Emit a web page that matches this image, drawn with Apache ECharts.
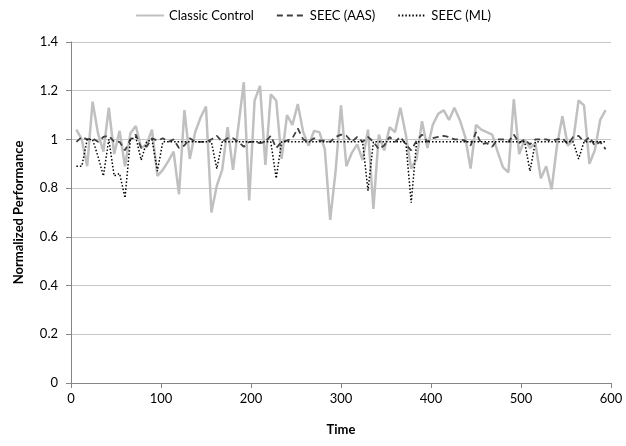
<!DOCTYPE html>
<html>
<head>
<meta charset="utf-8">
<script src="https://cdn.jsdelivr.net/npm/echarts@6/dist/echarts.min.js"></script>
<style>
  html, body { margin: 0; padding: 0; background: #fff; }
  #chart { width: 626px; height: 446px; }
</style>
</head>
<body>
<div id="chart"></div>
<script>
// Sampling instants (time units)
const time = [
  6, 12, 18, 24, 30, 36, 42, 48, 54, 60, 66, 72, 78, 84, 90, 96, 102, 108, 114, 120,
  126, 132, 138, 144, 150, 156, 162, 168, 174, 180, 186, 192, 198, 204, 210, 216, 222, 228, 234, 240,
  246, 252, 258, 264, 270, 276, 282, 288, 294, 300, 306, 312, 318, 324, 330, 336, 342, 348, 354, 360,
  366, 372, 378, 384, 390, 396, 402, 408, 414, 420, 426, 432, 438, 444, 450, 456, 462, 468, 474, 480,
  486, 492, 498, 504, 510, 516, 522, 528, 534, 540, 546, 552, 558, 564, 570, 576, 582, 588, 594
];

// Normalized performance, classic control
const classicControl = [
  1.04, 1.00, 0.89, 1.155, 1.025, 0.95, 1.13, 0.94, 1.035, 0.89, 1.025, 1.055, 0.965, 0.98, 1.04, 0.85, 0.875, 0.91, 0.95, 0.775,
  1.12, 0.92, 1.03, 1.09, 1.135, 0.70, 0.81, 0.875, 1.05, 0.875, 1.055, 1.235, 0.75, 1.16, 1.22, 0.895, 1.185, 1.16, 0.92, 1.10,
  1.06, 1.145, 1.03, 0.975, 1.035, 1.03, 0.96, 0.67, 0.87, 1.14, 0.89, 0.945, 0.98, 0.915, 1.04, 0.715, 1.02, 0.955, 1.05, 1.03,
  1.13, 1.02, 0.88, 0.92, 1.075, 0.965, 1.06, 1.105, 1.12, 1.08, 1.13, 1.08, 1.01, 0.88, 1.06, 1.04, 1.03, 1.02, 0.95, 0.885,
  0.865, 1.165, 0.94, 1.00, 0.965, 0.985, 0.84, 0.89, 0.795, 0.975, 1.095, 0.975, 0.995, 1.16, 1.14, 0.90, 0.955, 1.08, 1.12
];

// Normalized performance, SEEC with the AAS decision engine
const seecAAS = [
  0.99, 1.01, 1.00, 1.005, 0.99, 1.01, 1.015, 0.99, 0.99, 0.955, 1.00, 1.02, 0.965, 0.97, 1.005, 0.995, 1.005, 0.99, 1.00, 0.965,
  0.975, 1.005, 0.99, 0.99, 0.99, 1.00, 1.015, 0.99, 1.005, 1.005, 0.99, 0.97, 0.99, 0.99, 0.985, 0.99, 1.015, 0.965, 0.99, 0.995,
  1.005, 1.045, 1.00, 0.99, 1.005, 0.995, 0.995, 0.99, 1.01, 1.02, 1.015, 0.99, 1.01, 0.99, 1.01, 0.99, 0.96, 0.975, 1.01, 0.99,
  1.01, 0.98, 0.955, 0.995, 1.02, 0.99, 1.005, 1.01, 1.015, 1.01, 1.00, 1.00, 0.995, 0.975, 1.03, 0.98, 0.985, 0.97, 1.00, 1.00,
  0.99, 1.02, 0.985, 1.00, 0.98, 1.00, 1.00, 1.00, 0.995, 1.00, 1.005, 0.98, 1.01, 1.015, 0.99, 1.01, 0.975, 0.99, 0.96
];

// Normalized performance, SEEC with the ML decision engine
const seecML = [
  0.89, 0.89, 1.00, 1.00, 0.93, 0.85, 1.00, 0.85, 0.86, 0.76, 1.00, 1.01, 0.915, 0.99, 1.00, 0.87, 0.99, 0.99, 0.99, 0.99,
  0.99, 0.99, 0.99, 0.99, 0.99, 0.99, 0.88, 0.99, 0.99, 0.99, 0.99, 0.99, 0.99, 0.99, 0.99, 0.99, 0.99, 0.84, 0.99, 0.99,
  0.99, 0.99, 0.99, 0.99, 0.99, 0.99, 0.99, 0.99, 0.99, 0.99, 0.99, 0.99, 0.99, 0.99, 0.79, 0.99, 0.99, 0.99, 0.99, 0.99,
  0.99, 0.99, 0.74, 0.99, 0.99, 0.99, 0.99, 0.99, 0.99, 0.99, 0.99, 0.99, 0.99, 0.99, 0.99, 0.99, 0.99, 0.99, 0.99, 0.99,
  0.99, 0.99, 0.99, 0.99, 0.87, 0.99, 0.99, 0.99, 0.99, 0.99, 0.99, 0.99, 0.99, 0.92, 0.99, 0.99, 0.99, 0.99, 0.99
];

const seriesNames = ['Classic Control', 'SEEC (AAS)', 'SEEC (ML)'];

const pairs = vals => time.map((t, i) => [t, vals[i]]);
const font = 'Lato, "Open Sans", sans-serif';

const chart = echarts.init(document.getElementById('chart'), null, { renderer: 'canvas' });
chart.setOption({
  animation: false,
  backgroundColor: '#ffffff',
  textStyle: { fontFamily: font },
  legend: {
    top: 4,
    left: 'center',
    itemWidth: 28,
    itemHeight: 10,
    itemGap: 22,
    // line samples only, no marker on them
    itemStyle: { opacity: 0 },
    textStyle: { fontFamily: font, fontSize: 13, color: '#000' },
    data: seriesNames
  },
  grid: { left: 71, right: 15, top: 42, bottom: 63, containLabel: false },
  xAxis: {
    type: 'value',
    min: 0, max: 600, interval: 100,
    name: 'Time',
    nameLocation: 'middle',
    nameGap: 40,
    nameTextStyle: { fontFamily: font, fontSize: 13, fontWeight: 'bold', color: '#000' },
    axisLine: { lineStyle: { color: '#868686', width: 1 } },
    axisTick: { show: true, inside: false, length: 5, lineStyle: { color: '#868686' } },
    axisLabel: { fontFamily: font, fontSize: 13, color: '#000', margin: 9 },
    splitLine: { show: false }
  },
  yAxis: {
    type: 'value',
    min: 0, max: 1.4, interval: 0.2,
    name: 'Normalized Performance',
    nameLocation: 'middle',
    nameGap: 46,
    nameRotate: 90,
    nameTextStyle: { fontFamily: font, fontSize: 13, fontWeight: 'bold', color: '#000' },
    axisLine: { show: true, lineStyle: { color: '#868686', width: 1 } },
    axisTick: { show: true, inside: false, length: 5, lineStyle: { color: '#868686' } },
    axisLabel: { fontFamily: font, fontSize: 13, color: '#000', margin: 13 },
    splitLine: { show: true, lineStyle: { color: '#c6c6c6', width: 1 } }
  },
  series: [
    {
      name: seriesNames[0], type: 'line', data: pairs(classicControl),
      symbol: 'none', smooth: false,
      lineStyle: { color: '#c0c0c0', width: 2.5 },
      itemStyle: { color: '#c0c0c0' },
      z: 2
    },
    {
      name: seriesNames[1], type: 'line', data: pairs(seecAAS),
      symbol: 'none',
      lineStyle: { color: '#404040', width: 1.8, type: [6, 4] },
      itemStyle: { color: '#404040' },
      z: 3
    },
    {
      name: seriesNames[2], type: 'line', data: pairs(seecML),
      symbol: 'none',
      lineStyle: { color: '#000000', width: 1.5, type: [1.5, 2] },
      itemStyle: { color: '#000000' },
      z: 4
    }
  ]
});
</script>
</body>
</html>
